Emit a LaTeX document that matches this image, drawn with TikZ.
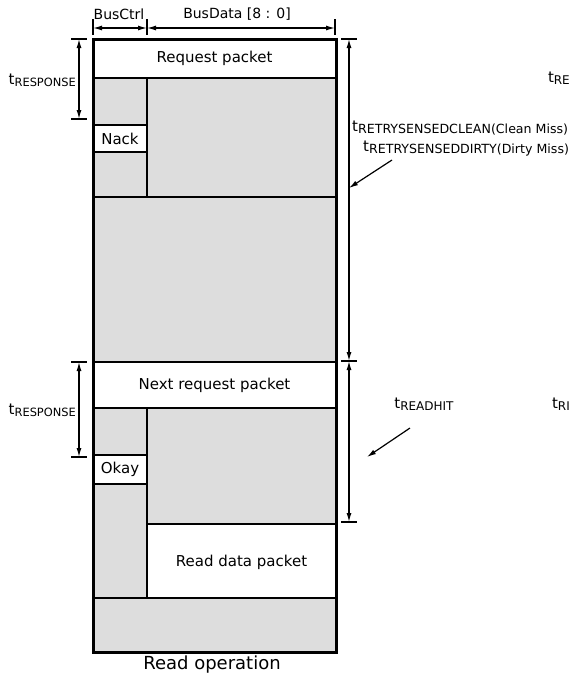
\documentclass[tikz,border=0pt]{standalone}
\usepackage{fontspec}
\setmainfont{DejaVu Sans}
\usetikzlibrary{arrows.meta}
\newcommand\tsub[2][12]{{\fontsize{15}{16}\selectfont t}\raisebox{-2pt}{\fontsize{#1}{#1}\selectfont #2}}
\begin{document}
\begin{tikzpicture}[x=1pt,y=-1pt,
  cell/.style={draw=black,line width=2.4pt,rectangle,inner sep=0pt,outer sep=0pt,font=\fontsize{15}{17}\selectfont},
  wcell/.style={cell,fill=white},
  gcell/.style={cell,fill=gray!27},
  dim/.style={line width=1.2pt,{Latex[length=9pt,width=5pt]}-{Latex[length=9pt,width=5pt]}},
  ptr/.style={line width=1.2pt,-{Latex[length=9pt,width=5pt]}},
  bar/.style={line width=1.2pt},
  lbl/.style={inner sep=0pt,font=\fontsize{14}{16}\selectfont}]
\useasboundingbox (0,0) rectangle (571,678);
% cells
\node[wcell,minimum width=243,minimum height=39] (req) at (214.5,58.5) {Request packet};
\node[gcell,minimum width=54,minimum height=47] (u1) at (120,101.5) {};
\node[wcell,minimum width=54,minimum height=27] (nack) at (120,138.5) {Nack};
\node[gcell,minimum width=54,minimum height=45] (u2) at (120,174.5) {};
\node[gcell,minimum width=189,minimum height=119] (u3) at (241.5,137.5) {};
\node[gcell,minimum width=243,minimum height=165] (big) at (214.5,279.5) {};
\node[wcell,minimum width=243,minimum height=46] (next) at (214.5,385) {Next request packet};
\node[gcell,minimum width=54,minimum height=47] (l1) at (120,431.5) {};
\node[wcell,minimum width=54,minimum height=29] (okay) at (120,469.5) {Okay};
\node[gcell,minimum width=54,minimum height=114] (l2) at (120,541) {};
\node[gcell,minimum width=189,minimum height=116] (l3) at (241.5,466) {};
\node[wcell,minimum width=189,minimum height=74,text depth=-4pt] (rd) at (241.5,561) {Read data packet};
\node[gcell,minimum width=243,minimum height=54] (bot) at (214.5,625) {};
\draw[line width=3pt] (req.north west) rectangle (bot.south east);
\node[inner sep=0pt,font=\fontsize{18}{20}\selectfont] (op) at (212,665) {Read operation};
% top dimensions
\coordinate (ta) at (93,28); \coordinate (tb) at (147,28); \coordinate (tc) at (335,28);
\draw[bar] (93,19) -- (93,35) (147,19) -- (147,35) (335,19) -- (335,35);
\draw[dim] (ta) -- (tb);
\draw[dim] (tb) -- (tc);
\node[lbl] (busctrl) at (119,14) {BusCtrl};
\node[lbl] (busdata) at (237,14) {BusData [8 : 0]};
% left dimensions
\coordinate (la1) at (79,39); \coordinate (la2) at (79,119);
\coordinate (lb1) at (79,362); \coordinate (lb2) at (79,457);
\draw[bar] (71,39) -- (87,39) (71,119) -- (87,119) (71,362) -- (87,362) (71,457) -- (87,457);
\draw[dim] (la1) -- (la2);
\draw[dim] (lb1) -- (lb2);
\node[inner sep=0pt,anchor=east] (tr1) at (76,80) {\tsub[11.4]{RESPONSE}};
\node[inner sep=0pt,anchor=east] (tr2) at (76,410) {\tsub[11.4]{RESPONSE}};
% right dimensions
\coordinate (r1) at (349,39); \coordinate (r2) at (349,361); \coordinate (r3) at (349,522);
\draw[bar] (341,39) -- (357,39) (341,361) -- (357,361) (341,522) -- (357,522);
\draw[dim] (r1) -- (r2);
\draw[dim] (r2) -- (r3);
\node[inner sep=0pt,anchor=west] (clean) at (352,128) {\tsub[12.6]{RETRYSENSEDCLEAN(Clean Miss)}};
\node[inner sep=0pt,anchor=west] (dirty) at (363,149) {\tsub[12.6]{RETRYSENSEDDIRTY(Dirty Miss)}};
\coordinate (p1s) at (392,160); \coordinate (p1e) at (349,188);
\draw[ptr] (p1s) -- (p1e);
\node[inner sep=0pt] (readhit) at (424,404) {\tsub{READHIT}};
\coordinate (p2s) at (410,428); \coordinate (p2e) at (367,457);
\draw[ptr] (p2s) -- (p2e);
% labels at the right edge, belonging to a neighbouring figure
\node[inner sep=0pt,anchor=east] (cut1) at (570,78) {\tsub{RE}};
\node[inner sep=0pt,anchor=east] (cut2) at (570,404) {\tsub{RI}};
\end{tikzpicture}
\end{document}
